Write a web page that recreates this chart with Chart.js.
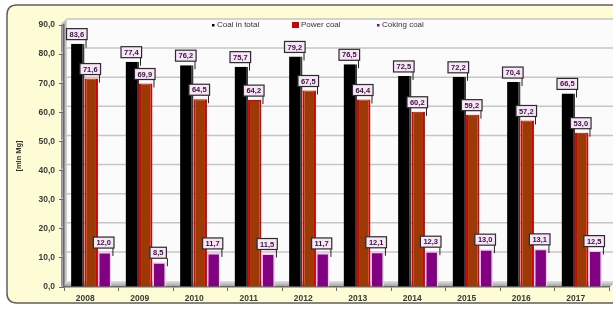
<!DOCTYPE html>
<html>
<head>
<meta charset="utf-8">
<script src="https://cdn.jsdelivr.net/npm/chart.js@4.4.1/dist/chart.umd.min.js"></script>
<style>
  html, body { margin: 0; padding: 0; background: #ffffff; }
  #wrap { position: relative; width: 613px; height: 310px; }
</style>
</head>
<body>
<div id="wrap"><canvas id="coalChart" width="613" height="310"></canvas></div>
<script>
// dane wykresu
var years = ['2008', '2009', '2010', '2011', '2012', '2013', '2014', '2015', '2016', '2017'];
var coalTotal = [83.6, 77.4, 76.2, 75.7, 79.2, 76.5, 72.5, 72.2, 70.4, 66.5];
var powerCoal = [71.6, 69.9, 64.5, 64.2, 67.5, 64.4, 60.2, 59.2, 57.2, 53.0];
var cokingCoal = [12.0, 8.5, 11.7, 11.5, 11.7, 12.1, 12.3, 13.0, 13.1, 12.5];
var seriesNames = ['Coal in total', 'Power coal', 'Coking coal'];
var yTicks = [0, 10, 20, 30, 40, 50, 60, 70, 80, 90];

var DEPTH = 6; // przesuniecie "3D"

function fmt(v) {
    return v.toFixed(1).replace('.', ',');
}

function roundRect(ctx, x, y, w, h, r) {
    ctx.beginPath();
    ctx.moveTo(x + r, y);
    ctx.lineTo(x + w - r, y);
    ctx.quadraticCurveTo(x + w, y, x + w, y + r);
    ctx.lineTo(x + w, y + h - r);
    ctx.quadraticCurveTo(x + w, y + h, x + w - r, y + h);
    ctx.lineTo(x + r, y + h);
    ctx.quadraticCurveTo(x, y + h, x, y + h - r);
    ctx.lineTo(x, y + r);
    ctx.quadraticCurveTo(x, y, x + r, y);
    ctx.closePath();
}

// tlo, sciany, siatka
var decorPlugin = {
    id: 'decor',
    beforeDraw: function (chart) {
        var ctx = chart.ctx;
        var a = chart.chartArea;
        var y = chart.scales.y;
        ctx.save();
        roundRect(ctx, 7, 5, 650, 298, 10);
        ctx.fillStyle = '#fdfcd4';
        ctx.fill();
        ctx.lineWidth = 1.5;
        ctx.strokeStyle = '#5e5e5e';
        ctx.stroke();

        var top = y.getPixelForValue(90) - DEPTH;
        var bottom = a.bottom;
        // sciana tylna
        ctx.fillStyle = '#fbfbfb';
        ctx.fillRect(a.left + DEPTH - 3, top, 613 - a.left, bottom - DEPTH - top);
        // sciana lewa
        var g = ctx.createLinearGradient(a.left - 3, 0, a.left + DEPTH - 3, 0);
        g.addColorStop(0, '#8c8c8c');
        g.addColorStop(1, '#d4d4d4');
        ctx.fillStyle = g;
        ctx.beginPath();
        ctx.moveTo(a.left - 3, top + DEPTH);
        ctx.lineTo(a.left + DEPTH - 3, top);
        ctx.lineTo(a.left + DEPTH - 3, bottom - DEPTH);
        ctx.lineTo(a.left - 3, bottom);
        ctx.closePath();
        ctx.fill();
        // podloga
        var f = ctx.createLinearGradient(0, bottom - DEPTH, 0, bottom);
        f.addColorStop(0, '#e2e2e2');
        f.addColorStop(1, '#9a9a9a');
        ctx.fillStyle = f;
        ctx.beginPath();
        ctx.moveTo(a.left - 3, bottom);
        ctx.lineTo(a.left + DEPTH - 3, bottom - DEPTH);
        ctx.lineTo(616, bottom - DEPTH);
        ctx.lineTo(610, bottom);
        ctx.closePath();
        ctx.fill();
        // linie siatki
        ctx.strokeStyle = '#c6c6c6';
        ctx.lineWidth = 1.5;
        yTicks.forEach(function (v) {
            if (v === 0) return;
            var py = y.getPixelForValue(v) - DEPTH;
            ctx.beginPath();
            ctx.moveTo(a.left + DEPTH - 3, py);
            ctx.lineTo(613, py);
            ctx.stroke();
            ctx.beginPath();
            ctx.moveTo(a.left - 3, py + DEPTH);
            ctx.lineTo(a.left + DEPTH - 3, py);
            ctx.stroke();
        });
        ctx.restore();
    },
    afterDatasetsDraw: function (chart) {
        var ctx = chart.ctx;
        ctx.save();
        ctx.font = 'bold 7.5px Arial, "Liberation Sans", sans-serif';
        ctx.textAlign = 'center';
        ctx.textBaseline = 'middle';
        chart.data.datasets.forEach(function (ds, di) {
            var meta = chart.getDatasetMeta(di);
            meta.data.forEach(function (bar, i) {
                var txt = fmt(ds.data[i]);
                var w = ctx.measureText(txt).width + 6;
                var h = 11;
                var cx = bar.x - 1;
                var by = bar.y - 4;
                // linia prowadzaca
                ctx.strokeStyle = '#222';
                ctx.lineWidth = 1;
                ctx.beginPath();
                ctx.moveTo(bar.x + bar.width / 2 + 1.5, by);
                ctx.lineTo(bar.x + bar.width / 2 + 1.5, bar.y + 4);
                ctx.stroke();
                // ramka
                ctx.fillStyle = '#f6e6f6';
                ctx.fillRect(cx - w / 2, by - h, w, h);
                ctx.lineWidth = 1.2;
                ctx.strokeStyle = '#2b2b2b';
                ctx.strokeRect(cx - w / 2, by - h, w, h);
                ctx.fillStyle = '#3a1040';
                ctx.fillText(txt, cx, by - h / 2 + 0.5);
            });
        });
        ctx.restore();
    },
    afterDraw: function (chart) {
        var ctx = chart.ctx;
        ctx.save();
        ctx.font = '8px Arial, "Liberation Sans", sans-serif';
        ctx.textBaseline = 'middle';
        ctx.textAlign = 'left';
        var ly = 25;
        // Coal in total
        ctx.fillStyle = '#000000';
        ctx.fillRect(212, ly - 1, 2.5, 2.5);
        ctx.fillStyle = '#333333';
        ctx.fillText(seriesNames[0], 217, ly);
        // Power coal
        ctx.fillStyle = '#d40000';
        ctx.fillRect(292, ly - 3, 7, 6);
        ctx.fillStyle = '#333333';
        ctx.fillText(seriesNames[1], 301, ly);
        // Coking coal
        ctx.fillStyle = '#8a008a';
        ctx.fillRect(377, ly - 1, 2.5, 2.5);
        ctx.fillStyle = '#333333';
        ctx.fillText(seriesNames[2], 382, ly);
        ctx.restore();
    }
};

function createCoalChart() {
    var ctx = document.getElementById('coalChart').getContext('2d');
    new Chart(ctx, {
        type: 'bar',
        data: {
            labels: years,
            datasets: [{
                label: seriesNames[0],
                data: coalTotal,
                backgroundColor: '#000000',
                borderColor: '#3a3a3a',
                borderWidth: { right: 2 },
                barPercentage: 1.0,
                categoryPercentage: 0.74
            }, {
                label: seriesNames[1],
                data: powerCoal,
                backgroundColor: '#9c3a06',
                borderColor: '#d80000',
                borderWidth: { left: 2, right: 2, top: 1 },
                barPercentage: 1.0,
                categoryPercentage: 0.74
            }, {
                label: seriesNames[2],
                data: cokingCoal,
                backgroundColor: '#820082',
                borderColor: '#f0c8f0',
                borderWidth: 1.5,
                barPercentage: 1.0,
                categoryPercentage: 0.74
            }]
        },
        options: {
            responsive: false,
            animation: false,
            layout: { padding: { left: 0, top: 25, right: 4, bottom: 0 } },
            plugins: {
                legend: { display: false },
                tooltip: { enabled: false }
            },
            scales: {
                x: {
                    offset: true,
                    grid: { display: true, drawOnChartArea: false, offset: true, tickLength: 4, color: '#6a6a6a' },
                    border: { display: true, color: '#6a6a6a', width: 1.5 },
                    ticks: {
                        color: '#3a3a3a',
                        font: { family: 'Arial', size: 8.5, weight: 'bold' },
                        labelOffset: -6,
                        padding: 3
                    },
                    afterFit: function (scale) { scale.height = 23; }
                },
                y: {
                    min: 0,
                    max: 90,
                    afterBuildTicks: function (scale) {
                        scale.ticks = yTicks.map(function (v) { return { value: v }; });
                    },
                    grid: { display: true, drawOnChartArea: false, tickLength: 5, color: '#6a6a6a' },
                    border: { display: true, color: '#6a6a6a', width: 1.5 },
                    ticks: {
                        color: '#3a3a3a',
                        font: { family: 'Arial', size: 8.5, weight: 'bold' },
                        padding: 4,
                        callback: function (v) { return fmt(v); }
                    },
                    title: {
                        display: true,
                        text: '[mln Mg]',
                        color: '#333333',
                        font: { family: 'Arial', size: 7.5, weight: 'bold' },
                        padding: { top: 14, bottom: 0 }
                    },
                    afterFit: function (scale) { scale.width = 64; }
                }
            }
        },
        plugins: [decorPlugin]
    });
}

createCoalChart();
</script>
</body>
</html>
